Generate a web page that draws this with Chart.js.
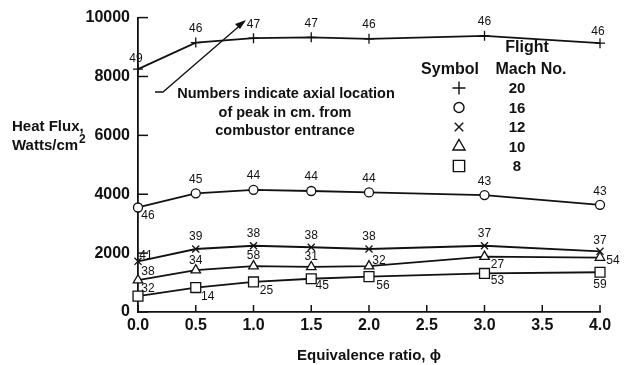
<!DOCTYPE html>
<html>
<head>
<meta charset="utf-8">
<script src="https://cdn.jsdelivr.net/npm/chart.js@4.4.1/dist/chart.umd.min.js"></script>
<style>
  html, body { margin: 0; padding: 0; background: #fff; }
  #wrap { width: 625px; height: 365px; position: relative; }
</style>
</head>
<body>
<div id="wrap"><canvas id="heatflux"></canvas></div>
<script>
// equivalence ratio stations
var phi = [0.0, 0.5, 1.0, 1.5, 2.0, 3.0, 4.0];

// peak heat flux, W/cm^2, per flight Mach number
var mach20 = [8250, 9150, 9300, 9330, 9280, 9380, 9130];
var mach16 = [3550, 4030, 4150, 4110, 4060, 3970, 3640];
var mach12 = [1720, 2140, 2250, 2200, 2140, 2250, 2060];
var mach10 = [1080, 1420, 1560, 1530, 1560, 1880, 1850];
var mach8 = [540, 830, 1020, 1130, 1200, 1310, 1350];

// axial location of the peak (cm from combustor entrance)
var peak20 = ["49", "46", "47", "47", "46", "46", "46"];
var peak16 = ["46", "45", "44", "44", "44", "43", "43"];
var peak12 = ["41", "39", "38", "38", "38", "37", "37"];
var peak10 = ["38", "34", "58", "31", "32", "27", "54"];
var peak8 = ["32", "14", "25", "45", "56", "53", "59"];

var machLabels = ["20", "16", "12", "10", "8"];
var yTicks = [0, 2000, 4000, 6000, 8000, 10000];

// where each peak number sits relative to its point, in px
var spot20 = [[-2, -10], [0, -14], [0, -14], [0, -14], [0, -14], [0, -14], [-2, -12]];
var spot16 = [[10, 8], [0, -14], [0, -14], [0, -14], [0, -14], [0, -13], [0, -13]];
var spot12 = [[8, -6], [0, -12], [0, -12], [0, -12], [0, -12], [0, -12], [0, -11]];
var spot10 = [[10, -9], [0, -10], [0, -10], [0, -10], [10, -5], [13, 8], [13, 3]];
var spot8 = [[10, -7], [12, 9], [13, 9], [11, 7], [14, 9], [13, 7], [0, 12]];

var FONT = "'Liberation Sans', Arial, Helvetica, sans-serif";
var INK = "#111";

function toPoints(ys) {
  return phi.map(function (x, i) { return { x: x, y: ys[i] }; });
}

function series(ys, sym, peaks, spots) {
  return {
    data: toPoints(ys),
    peaks: peaks,
    spots: spots,
    clip: false,
    borderColor: INK,
    borderWidth: 1.8,
    pointStyle: sym.style,
    pointRadius: sym.radius,
    pointBorderWidth: 1.3,
    pointBackgroundColor: "#fff",
    pointBorderColor: INK,
    tension: 0,
  };
}

var symbols = [
  { style: "cross", radius: 5, key: 6.5 },
  { style: "circle", radius: 4.5, key: 5 },
  { style: "crossRot", radius: 5, key: 6 },
  { style: "triangle", radius: 5.5, key: 7 },
  { style: "rect", radius: 7, key: 8 },
];

var decor = {
  id: "decor",
  afterDraw: function (chart) {
    var ctx = chart.ctx;
    var xs = chart.scales.x;
    var ys = chart.scales.y;
    var area = chart.chartArea;
    ctx.save();
    ctx.strokeStyle = INK;
    ctx.fillStyle = INK;
    ctx.lineWidth = 1.5;

    // inward tick marks
    yTicks.forEach(function (v) {
      var py = ys.getPixelForValue(v);
      ctx.beginPath();
      ctx.moveTo(area.left, py);
      ctx.lineTo(area.left + 10, py);
      ctx.stroke();
    });
    for (var t = 0; t <= 4; t += 0.5) {
      var px = xs.getPixelForValue(t);
      ctx.beginPath();
      ctx.moveTo(px, area.bottom);
      ctx.lineTo(px, area.bottom - 7);
      ctx.stroke();
    }

    // peak location numbers
    ctx.font = "12px " + FONT;
    ctx.textAlign = "center";
    ctx.textBaseline = "middle";
    chart.data.datasets.forEach(function (ds, di) {
      var meta = chart.getDatasetMeta(di);
      meta.data.forEach(function (pt, i) {
        var s = ds.spots[i];
        ctx.fillText(ds.peaks[i], pt.x + s[0], pt.y + s[1]);
      });
    });

    // y axis title
    ctx.font = "bold 15px " + FONT;
    ctx.textAlign = "left";
    ctx.textBaseline = "alphabetic";
    ctx.fillText("Heat Flux,", 12, 131);
    ctx.fillText("Watts/cm", 12, 150);
    var w = ctx.measureText("Watts/cm").width;
    ctx.font = "bold 12px " + FONT;
    ctx.fillText("2", 12 + w + 1, 143);

    // x axis title
    ctx.font = "bold 15px " + FONT;
    ctx.textAlign = "center";
    ctx.fillText("Equivalence ratio, \u03d5", (area.left + area.right) / 2, 360);

    // note with arrow
    ctx.font = "bold 14.5px " + FONT;
    ctx.fillText("Numbers indicate axial location", 286, 98);
    ctx.fillText("of peak in cm. from", 285, 117);
    ctx.fillText("combustor entrance", 285, 135);
    ctx.lineWidth = 1.3;
    ctx.beginPath();
    ctx.moveTo(155, 92);
    ctx.lineTo(163, 92);
    ctx.lineTo(244, 22);
    ctx.stroke();
    ctx.beginPath();
    ctx.moveTo(246, 20);
    ctx.lineTo(235, 24);
    ctx.lineTo(240, 29);
    ctx.closePath();
    ctx.fill();

    // symbol key
    ctx.font = "bold 16px " + FONT;
    ctx.fillText("Flight", 527, 52);
    ctx.fillText("Symbol", 450, 74);
    ctx.fillText("Mach No.", 531, 74);
    symbols.forEach(function (s, i) {
      var cy = 88 + i * 19.5;
      ctx.fillStyle = "#fff";
      ctx.strokeStyle = INK;
      ctx.lineWidth = 1.4;
      Chart.helpers.drawPoint(ctx, {
        pointStyle: s.style,
        radius: s.key,
        rotation: 0,
        borderWidth: 1.4,
      }, 459, cy);
      ctx.fillStyle = INK;
      ctx.font = "bold 15px " + FONT;
      ctx.textBaseline = "middle";
      ctx.fillText(machLabels[i], 517, cy + 1);
    });
    ctx.restore();
  },
};

new Chart(document.getElementById("heatflux"), {
  type: "line",
  data: {
    datasets: [
      series(mach20, symbols[0], peak20, spot20),
      series(mach16, symbols[1], peak16, spot16),
      series(mach12, symbols[2], peak12, spot12),
      series(mach10, symbols[3], peak10, spot10),
      series(mach8, symbols[4], peak8, spot8),
    ],
  },
  options: {
    responsive: true,
    maintainAspectRatio: false,
    animation: false,
    layout: { padding: { left: 0, right: 25, top: 12, bottom: 0 } },
    plugins: {
      legend: { display: false },
      tooltip: { enabled: false },
    },
    scales: {
      x: {
        type: "linear",
        min: 0,
        max: 4,
        afterFit: function (scale) { scale.height = 53; },
        ticks: {
          stepSize: 0.5,
          padding: 4,
          color: INK,
          font: { family: FONT, size: 16, weight: "bold" },
          callback: function (v) { return v.toFixed(1); },
        },
        grid: { display: false, drawTicks: false },
        border: { display: true, color: INK, width: 1.8 },
      },
      y: {
        min: 0,
        max: 10000,
        afterFit: function (scale) { scale.width = 138; },
        afterBuildTicks: function (scale) {
          scale.ticks = yTicks.map(function (v) { return { value: v }; });
        },
        ticks: {
          padding: 8,
          color: INK,
          font: { family: FONT, size: 16, weight: "bold" },
          callback: function (v) { return String(v); },
        },
        grid: { display: false, drawTicks: false },
        border: { display: true, color: INK, width: 1.8 },
      },
    },
  },
  plugins: [decor],
});
</script>
</body>
</html>
